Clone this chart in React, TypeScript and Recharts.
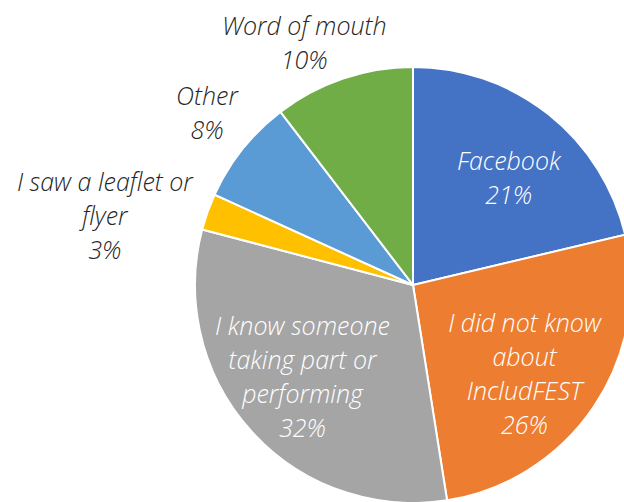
import { Cell, Pie, PieChart } from "recharts";

const sources = [
  "Facebook",
  "I did not know about IncludFEST",
  "I know someone taking part or performing",
  "I saw a leaflet or flyer",
  "Other",
  "Word of mouth",
];
const shares = [21.3, 26.2, 31.6, 2.7, 7.8, 10.4];
const labelLines = [
  ["Facebook"],
  ["I did not know", "about", "IncludFEST"],
  ["I know someone", "taking part or", "performing"],
  ["I saw a leaflet or", "flyer"],
  ["Other"],
  ["Word of mouth"],
];
const colors = ["#4472C4", "#ED7D31", "#A5A5A5", "#FFC000", "#5B9BD5", "#70AD47"];

// label placement per slice: distance from centre and a small angle nudge
const labelRadius = [144, 142, 143, 316, 269, 266];
const labelNudge = [-3.3, -4.4, -2.7, 6.8, -1.5, 5.4];
const inside = [true, true, true, false, false, false];

const data = sources.map((name, i) => ({ name, value: shares[i] }));

const RAD = Math.PI / 180;

function renderLabel(props: any) {
  const { cx, cy, midAngle, index, percent } = props;
  const a = (midAngle + labelNudge[index]) * RAD;
  const x = cx + labelRadius[index] * Math.cos(-a);
  const y = cy + labelRadius[index] * Math.sin(-a);
  const lines = [...labelLines[index], `${Math.round(percent * 100)}%`];
  const lh = 34;
  const top = y - ((lines.length - 1) * lh) / 2;
  return (
    <text
      x={x}
      y={top}
      textAnchor="middle"
      dominantBaseline="central"
      fill={inside[index] ? "#ffffff" : "#262626"}
      fontFamily="'Open Sans', sans-serif"
      fontStyle="italic"
      fontWeight={300}
      fontSize={25}
    >
      {lines.map((l, i) => (
        <tspan key={i} x={x} y={top + i * lh}>
          {l}
        </tspan>
      ))}
    </text>
  );
}

export default function App() {
  return (
    <div style={{ position: "absolute", left: 0, top: 0, width: 624, height: 502, overflow: "hidden", background: "#fff" }}>
      <PieChart width={624} height={502} margin={{ top: 0, right: 0, bottom: 0, left: 0 }}>
        <Pie
          data={data}
          dataKey="value"
          cx={413}
          cy={285}
          outerRadius={218}
          startAngle={90}
          endAngle={-270}
          stroke="#ffffff"
          strokeWidth={2}
          label={renderLabel}
          labelLine={false}
          isAnimationActive={false}
        >
          {data.map((d, i) => (
            <Cell key={d.name} fill={colors[i]} />
          ))}
        </Pie>
      </PieChart>
    </div>
  );
}
